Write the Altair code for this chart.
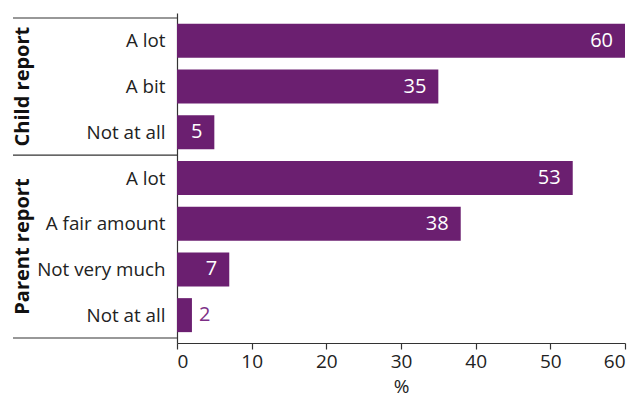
import altair as alt
import pandas as pd

groups = ["Child report", "Child report", "Child report",
          "Parent report", "Parent report", "Parent report", "Parent report"]
categories = ["A lot", "A bit", "Not at all",
              "A lot", "A fair amount", "Not very much", "Not at all"]
values = [60, 35, 5, 53, 38, 7, 2]

group_names = ["Child report", "Parent report"]
group_sizes = [3, 4]

x_ticks = [0, 10, 20, 30, 40, 50, 60]

PURPLE = "#6b1f70"
LABEL_PURPLE = "#7d2f86"
FONT = "Open Sans"

n = len(categories)
df = pd.DataFrame({
    "group": groups,
    "category": categories,
    "value": values,
    "row": [i + 0.5 for i in range(n)],
})

# group boundaries and mid-points (in row units)
bounds = [0]
for s in group_sizes:
    bounds.append(bounds[-1] + s)
rules_df = pd.DataFrame({"y": bounds})
glabels_df = pd.DataFrame({
    "group": group_names,
    "mid": [(bounds[i] + bounds[i + 1]) / 2 for i in range(len(group_names))],
})

label_array = "[" + ",".join("'" + c + "'" for c in categories) + "]"

yscale = alt.Scale(domain=[0, n], reverse=True, nice=False, zero=False)
xscale = alt.Scale(domain=[0, 60], nice=False)

bars = alt.Chart(df).mark_bar(orient="horizontal", size=34, color=PURPLE).encode(
    x=alt.X("value:Q", scale=xscale,
            axis=alt.Axis(values=x_ticks, title="%", grid=False, tickSize=6,
                          labelFontSize=19, titleFontSize=19, labelFont=FONT,
                          titleFont=FONT, labelColor="#222", titleColor="#222",
                          titleFontWeight="normal", domainColor="#333",
                          tickColor="#333", labelPadding=3, titlePadding=6,
                          domainWidth=1.2, tickWidth=1.2)),
    y=alt.Y("row:Q", scale=yscale,
            axis=alt.Axis(values=[r for r in df["row"]], title=None, grid=False,
                          ticks=False, labelFontSize=18.8, labelFont=FONT,
                          labelColor="#222", labelPadding=12,
                          labelExpr=label_array + "[floor(datum.value)]",
                          domainColor="#333", domainWidth=1.2)),
)

inside = alt.Chart(df).transform_filter("datum.value >= 4").mark_text(
    align="right", baseline="middle", dx=-12, fontSize=20, font=FONT, color="white"
).encode(
    x=alt.X("value:Q", scale=xscale),
    y=alt.Y("row:Q", scale=yscale),
    text="value:Q",
)

outside = alt.Chart(df).transform_filter("datum.value < 4").mark_text(
    align="left", baseline="middle", dx=7, fontSize=20, font=FONT, color=LABEL_PURPLE
).encode(
    x=alt.X("value:Q", scale=xscale),
    y=alt.Y("row:Q", scale=yscale),
    text="value:Q",
)

rules = alt.Chart(rules_df).mark_rule(color="#333", strokeWidth=1.2).encode(
    y=alt.Y("y:Q", scale=yscale),
    x=alt.value(-164),
    x2=alt.value(0),
)

glabels = alt.Chart(glabels_df).mark_text(
    angle=270, align="center", baseline="middle", fontSize=20,
    fontWeight="bold", font=FONT, color="#111"
).encode(
    y=alt.Y("mid:Q", scale=yscale),
    x=alt.value(-154),
    text="group:N",
)

chart = alt.layer(rules, bars, inside, outside, glabels).properties(
    width=448, height=330,
    autosize=alt.AutoSizeParams(type="none"),
    padding={"left": 177, "top": 13, "right": 13, "bottom": 55},
).configure_view(stroke=None)

chart.save("out.html", embed_options={"renderer": "svg", "actions": False})
